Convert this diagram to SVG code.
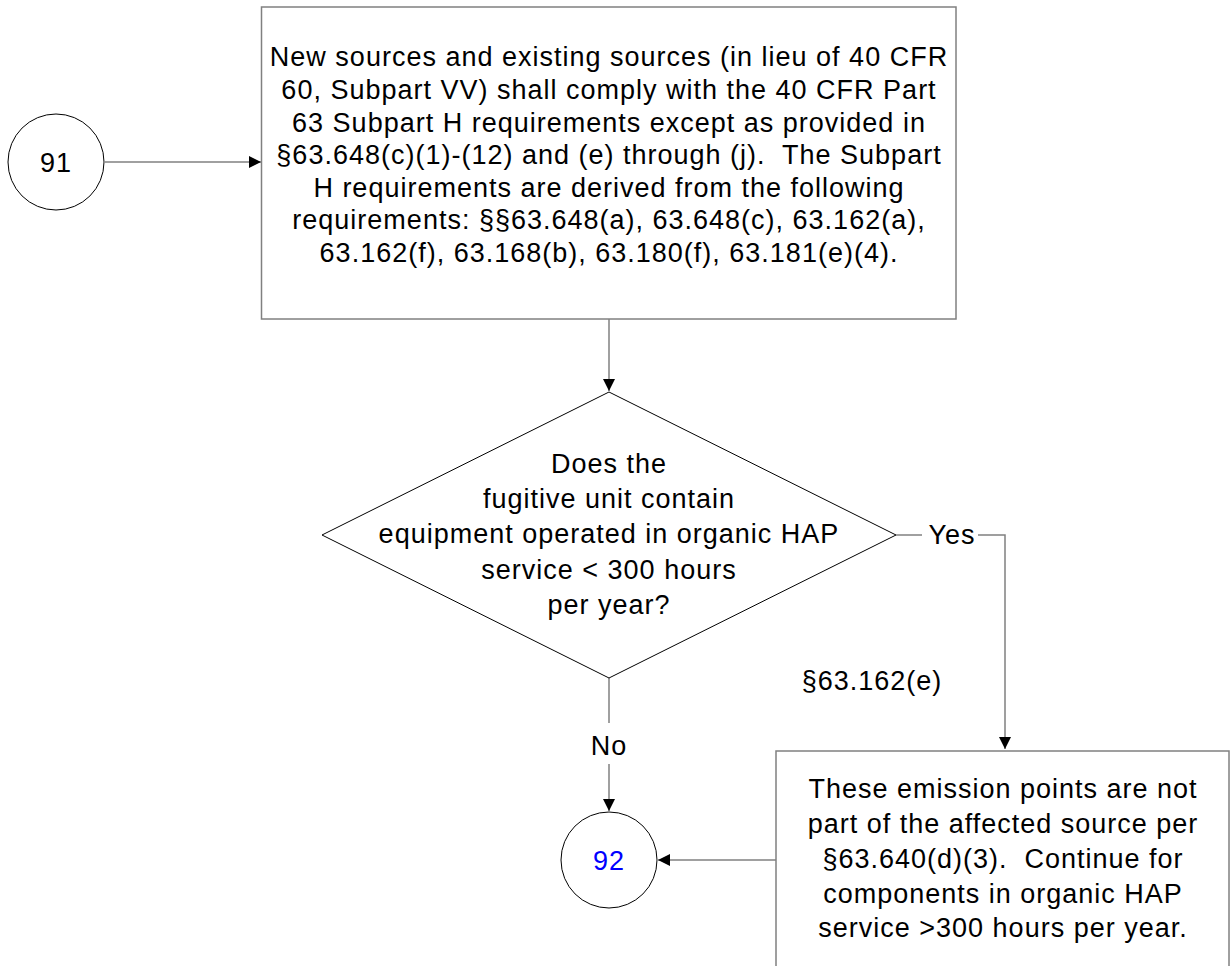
<svg xmlns="http://www.w3.org/2000/svg" width="1231" height="966" viewBox="0 0 1231 966">
<style>
text{font-family:"Liberation Sans",Arial,sans-serif;font-size:27px;letter-spacing:1px;fill:#000;text-anchor:middle}
.box{fill:#fff;stroke:#808080;stroke-width:1.5}
.shape{fill:#fff;stroke:#000;stroke-width:1}
.conn{fill:none;stroke:#808080;stroke-width:1.5}
</style>
<defs>
<marker id="arr" markerWidth="12" markerHeight="12" refX="12" refY="6" orient="auto" markerUnits="userSpaceOnUse">
<path d="M0,0 L12,6 L0,12 Z" fill="#000"/>
</marker>
</defs>
<rect width="1231" height="966" fill="#fff"/>
<g id="connectors">
<line class="conn" x1="105" y1="162" x2="261" y2="162" marker-end="url(#arr)"/>
<line class="conn" x1="609" y1="319" x2="609" y2="391" marker-end="url(#arr)"/>
<polyline class="conn" points="896,535 922,535"/>
<polyline class="conn" points="978,535 1005,535 1005,749" marker-end="url(#arr)"/>
<line class="conn" x1="609" y1="678" x2="609" y2="723"/>
<line class="conn" x1="609" y1="764" x2="609" y2="811" marker-end="url(#arr)"/>
<line class="conn" x1="776" y1="860" x2="658" y2="860" marker-end="url(#arr)"/>
<text x="952" y="544">Yes</text>
<text x="872" y="690">§63.162(e)</text>
<text x="609" y="755">No</text>
</g>
<g id="n91">
<circle class="shape" cx="56" cy="162" r="48"/>
<text x="56" y="172">91</text>
</g>
<g id="box1">
<rect class="box" x="261.5" y="7" width="694.5" height="312"/>
<text x="609" y="66">New sources and existing sources (in lieu of 40 CFR</text>
<text x="609" y="99">60, Subpart VV) shall comply with the 40 CFR Part</text>
<text x="609" y="131.5">63 Subpart H requirements except as provided in</text>
<text x="609" y="164" xml:space="preserve">§63.648(c)(1)-(12) and (e) through (j).  The Subpart</text>
<text x="609" y="196.5">H requirements are derived from the following</text>
<text x="609" y="229">requirements: §§63.648(a), 63.648(c), 63.162(a),</text>
<text x="609" y="262">63.162(f), 63.168(b), 63.180(f), 63.181(e)(4).</text>
</g>
<g id="decision">
<polygon class="shape" points="609,392 896,535 609,678 322,535"/>
<text x="609" y="473">Does the</text>
<text x="609" y="508">fugitive unit contain</text>
<text x="609" y="543">equipment operated in organic HAP</text>
<text x="609" y="579">service &lt; 300 hours</text>
<text x="609" y="614">per year?</text>
</g>
<g id="box2">
<rect class="box" x="776" y="751" width="453" height="218"/>
<text x="1003" y="798">These emission points are not</text>
<text x="1003" y="833">part of the affected source per</text>
<text x="1003" y="868" xml:space="preserve">§63.640(d)(3).  Continue for</text>
<text x="1003" y="903">components in organic HAP</text>
<text x="1003" y="937">service &gt;300 hours per year.</text>
</g>
<g id="n92">
<circle class="shape" cx="609" cy="860" r="48"/>
<text x="609" y="870" style="fill:#0000ff">92</text>
</g>
</svg>
